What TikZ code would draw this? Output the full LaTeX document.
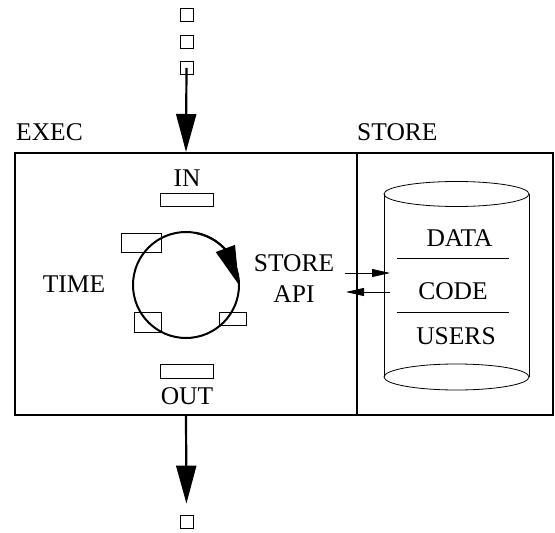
\documentclass[tikz,border=0pt]{standalone}
\usepackage{fontspec}
\setmainfont{Liberation Serif}
\usetikzlibrary{positioning,arrows.meta,bending}

\begin{document}
\begin{tikzpicture}[x=1bp,y=1bp,
  every node/.style={inner sep=0pt,font=\fontsize{25.5bp}{31bp}\selectfont},
  token/.style={draw=black,line width=0.8bp,minimum width=13bp,minimum height=13bp},
  slot/.style={draw=black,line width=0.8bp},
  frame/.style={draw=black,line width=2bp,minimum height=262bp},
  bigarrow/.style={line width=2.2bp,-{Triangle[length=38bp,width=20bp]}},
  apiarrow/.style={line width=0.8bp,-{Triangle[length=18bp,width=8bp]}}]
\useasboundingbox (0,0) rectangle (555,-533);
\node [token] (sqa) at (186.5,-15) {};
\node [token] (sqb) at (186.5,-42) {};
\node [token] (sqc) at (186.5,-68) {};
\node [frame,minimum width=342bp] (exec) at (186,-284) {};
\node [frame,minimum width=196bp] (store) at (455,-284) {};
\node [anchor=base west] (execlbl) at (16,-141) {EXEC};
\node [anchor=base west] (storelbl) at (357,-141) {STORE};
\node [token] (sqout) at (186.5,-521.5) {};
\draw [black,bigarrow] (sqc.center) -- (exec.north);
\draw [black,bigarrow,shorten >=11bp] (exec.south) -- (sqout.north);
\node (inlbl) at (187,-178) {IN};
\node [slot,minimum width=53bp,minimum height=13bp] (inslot) at (186.5,-199.5) {};
\node [slot,minimum width=53bp,minimum height=14bp] (outslot) at (186.5,-371) {};
\node (outlbl) at (187,-396) {OUT};
\node [circle,draw=black,line width=2bp,outer sep=0pt,minimum size=106bp] (loop) at (186,-285) {};
\draw [black,line width=2bp,-{Triangle[length=39bp,width=20bp,flex]}] (loop.80) arc [start angle=80,end angle=0,radius=53];
\node [slot,minimum width=40bp,minimum height=19bp] (slota) at (141,-242.5) {};
\node [slot,minimum width=27bp,minimum height=20bp] (slotb) at (147.5,-322) {};
\node [slot,minimum width=27bp,minimum height=13bp] (slotc) at (232.5,-318.5) {};
\node (timelbl) at (74,-284) {TIME};
\node [align=center] (api) at (294,-279) {STORE\\API};
\draw [black,line width=0.8bp] (456.5,-194) ellipse [x radius=72.5,y radius=12.5];
\draw [black,line width=0.8bp] (456.5,-377) ellipse [x radius=72.5,y radius=13];
\draw [black,line width=0.8bp] (384,-194) -- (384,-377);
\draw [black,line width=0.8bp] (529,-194) -- (529,-377);
\node (datalbl) at (459.5,-238) {DATA};
\node (codelbl) at (453,-291) {CODE};
\node (userslbl) at (456,-336) {USERS};
\draw [black,line width=0.8bp] (397,-258) -- (509,-258);
\draw [black,line width=0.8bp] (397,-312) -- (509,-312);
\coordinate (apiout) at (345,-273);
\coordinate (dbin) at (390,-273);
\coordinate (dbout) at (390,-292);
\coordinate (apiin) at (346,-292);
\draw [black,apiarrow] (apiout) -- (dbin);
\draw [black,apiarrow] (dbout) -- (apiin);
\end{tikzpicture}
\end{document}
